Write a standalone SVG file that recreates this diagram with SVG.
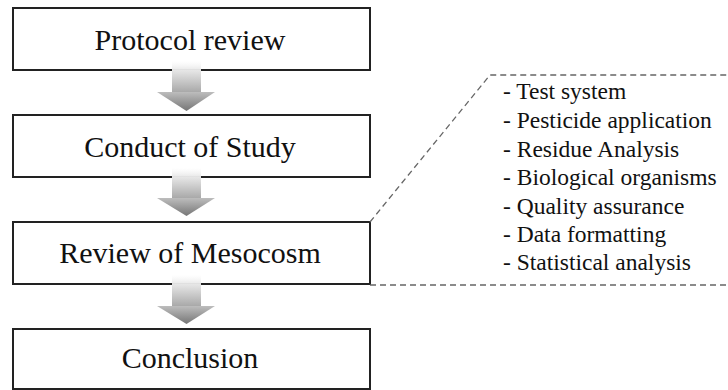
<svg xmlns="http://www.w3.org/2000/svg" width="728" height="390" viewBox="0 0 728 390">
<defs>
<linearGradient id="shaft" x1="0" y1="0" x2="0" y2="1">
<stop offset="0" stop-color="#ffffff" stop-opacity="0.6"/>
<stop offset="0.3" stop-color="#e6e6e6"/>
<stop offset="1" stop-color="#a6a6a6"/>
</linearGradient>
<linearGradient id="head" x1="0" y1="0" x2="0" y2="1">
<stop offset="0" stop-color="#bdbdbd"/>
<stop offset="1" stop-color="#767676"/>
</linearGradient>
</defs>
<style>
.box{fill:#fff;stroke:#222;stroke-width:2}
.t{font-family:"Liberation Serif","Times New Roman",serif;font-size:30px;fill:#111;text-anchor:middle}
.li{font-family:"Liberation Serif","Times New Roman",serif;font-size:23.5px;fill:#111}
.dash{fill:none;stroke:#666;stroke-width:1.3;stroke-dasharray:6,4}
</style>
<g id="node1"><rect class="box" x="13" y="8" width="357" height="62"/><text class="t" x="190" y="50">Protocol review</text></g>
<g id="node2"><rect class="box" x="13" y="115" width="357" height="62"/><text class="t" x="190" y="157">Conduct of Study</text></g>
<g id="node3"><rect class="box" x="13" y="222" width="357" height="62"/><text class="t" x="190" y="263">Review of Mesocosm</text></g>
<g id="node4"><rect class="box" x="13" y="329" width="357" height="60"/><text class="t" x="190" y="368">Conclusion</text></g>
<g id="connectors">
<g id="arrow1"><rect x="172" y="61" width="29" height="32" fill="url(#shaft)"/><path d="M157,92 L215,92 L186.5,111 Z" fill="url(#head)"/></g>
<g id="arrow2"><rect x="172" y="168" width="29" height="31" fill="url(#shaft)"/><path d="M157,198 L215,198 L186.5,216 Z" fill="url(#head)"/></g>
<g id="arrow3"><rect x="172" y="275" width="29" height="32" fill="url(#shaft)"/><path d="M157,306 L215,306 L186.5,324 Z" fill="url(#head)"/></g>
<path class="dash" d="M370,222 L490,75 L728,75"/>
<path class="dash" d="M370,285 L728,285"/>
</g>
<g id="details">
<text class="li" x="503" y="99">- Test system</text>
<text class="li" x="503" y="128">- Pesticide application</text>
<text class="li" x="503" y="156.5">- Residue Analysis</text>
<text class="li" x="503" y="185">- Biological organisms</text>
<text class="li" x="503" y="213.5">- Quality assurance</text>
<text class="li" x="503" y="242">- Data formatting</text>
<text class="li" x="503" y="270">- Statistical analysis</text>
</g>
</svg>
